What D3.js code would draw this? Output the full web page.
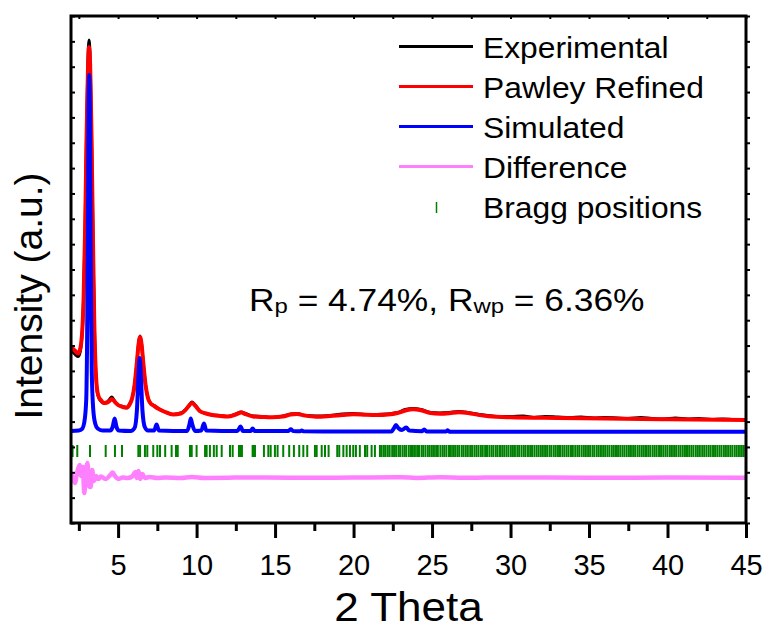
<!DOCTYPE html>
<html>
<head>
<meta charset="utf-8">
<script src="https://cdn.jsdelivr.net/npm/d3@7"></script>
<style>
  body { margin: 0; background: #fff; }
  text { font-family: 'Liberation Sans', Arial, sans-serif; fill: #000; }
</style>
</head>
<body>
<svg id="chart" width="768" height="630"></svg>
<script>
// 2 theta in degrees, intensity in arbitrary units (stacked offsets)
const experimental = [
  [2.0, 172], [2.15, 170.5], [2.3, 168], [2.45, 166.5], [2.55, 169], [2.65, 178], [2.72, 192],
  [2.8, 224], [2.9, 296], [3.0, 400], [3.08, 462], [3.15, 483], [3.22, 464], [3.3, 396],
  [3.4, 284], [3.48, 204], [3.56, 158], [3.65, 134], [3.75, 126], [3.9, 122], [4.1, 120],
  [4.3, 121], [4.45, 123.5], [4.6, 126], [4.7, 124], [4.8, 121.5], [5.0, 118], [5.3, 116.5],
  [5.55, 115], [5.75, 119.5], [5.9, 125], [6.05, 138], [6.2, 161], [6.3, 179], [6.4, 187],
  [6.5, 178.5], [6.6, 161], [6.75, 138], [6.9, 125.5], [7.05, 120], [7.3, 117.5], [7.6, 114],
  [8.0, 111], [8.5, 108.5], [9.0, 110], [9.3, 113.5], [9.5, 117], [9.7, 121], [9.9, 118],
  [10.2, 112], [10.6, 109.5], [11.0, 108], [11.5, 107.5], [12.0, 106.5], [12.5, 109],
  [12.85, 111], [13.1, 109.5], [13.6, 107], [14.2, 106.5], [14.8, 105.5], [15.5, 107],
  [16.0, 109], [16.4, 109.5], [16.9, 107.5], [17.6, 107], [18.5, 107.5], [19.3, 109],
  [20.0, 109.5], [20.8, 108.5], [21.5, 108.5], [22.2, 109], [22.8, 110.5], [23.3, 113.5],
  [23.8, 114.5], [24.3, 113.5], [24.9, 110.5], [25.5, 110], [26.1, 110.5], [26.7, 111.5],
  [27.3, 110.5], [28.0, 108.5], [28.6, 107.5], [29.3, 106.5], [30.0, 106.5], [30.8, 107],
  [31.5, 105.5], [32.2, 106.5], [33.0, 106], [33.8, 105.5], [34.5, 106], [35.3, 105],
  [36.0, 105.5], [36.8, 105], [37.5, 104.5], [38.3, 105.5], [39.0, 104.5], [39.8, 104],
  [40.5, 105], [41.3, 104], [42.0, 104.5], [42.8, 103.5], [43.5, 104], [44.2, 103.5], [45.0, 103]
];

const refined = [
  [2.0, 175], [2.15, 174], [2.3, 171.5], [2.45, 169.5], [2.55, 172], [2.65, 180], [2.72, 193],
  [2.8, 223], [2.9, 293], [3.0, 393], [3.08, 453], [3.15, 476], [3.22, 458], [3.3, 393],
  [3.4, 283], [3.48, 203], [3.56, 158], [3.65, 135], [3.75, 127], [3.9, 123], [4.1, 120],
  [4.3, 120.5], [4.45, 122], [4.6, 124], [4.8, 121], [5.0, 118], [5.3, 116], [5.55, 115.5],
  [5.75, 119], [5.9, 125], [6.05, 138], [6.2, 161], [6.3, 178], [6.4, 186], [6.5, 178],
  [6.6, 161], [6.75, 138], [6.9, 125], [7.05, 120], [7.3, 117], [7.6, 114], [8.0, 111],
  [8.5, 108.5], [9.0, 109.5], [9.3, 113], [9.5, 117], [9.7, 120], [9.9, 117.5], [10.2, 112],
  [10.6, 109.5], [11.0, 108], [11.5, 107], [12.0, 106.5], [12.5, 108.5], [12.85, 110.5],
  [13.1, 109], [13.6, 106.5], [14.2, 106], [14.8, 105.7], [15.5, 106.5], [16.0, 108.5],
  [16.4, 109], [16.9, 107.5], [17.6, 106.3], [18.5, 107], [19.3, 108], [20.0, 108.7],
  [20.8, 108.2], [21.5, 108], [22.2, 108.5], [22.8, 110], [23.3, 112.5], [23.8, 113.7],
  [24.3, 112.7], [24.9, 110], [25.5, 109.2], [26.1, 109.7], [26.7, 110.7], [27.3, 110],
  [28.0, 108], [28.6, 106.7], [30.0, 105.7], [33.0, 105], [36.0, 104.5], [40.0, 103.7], [45.0, 103]
];

const simulated = [
  [2.0, 92], [2.5, 92.5], [2.7, 94], [2.85, 101], [2.97, 123], [3.02, 173], [3.07, 273],
  [3.12, 413], [3.16, 448], [3.2, 413], [3.25, 273], [3.32, 153], [3.42, 113], [3.55, 99],
  [3.7, 94.5], [4.0, 92.5], [4.5, 92.5], [4.65, 96], [4.78, 104.5], [4.9, 96], [5.05, 92.5],
  [5.8, 92], [6.05, 95], [6.2, 113], [6.3, 148], [6.37, 165], [6.45, 148], [6.55, 113],
  [6.7, 96], [6.9, 92.5], [7.3, 92.5], [7.45, 98.5], [7.6, 92.5], [9.4, 92], [9.55, 99],
  [9.63, 104.5], [9.72, 99], [9.9, 92], [10.3, 92.5], [10.47, 99.5], [10.62, 92.5],
  [12.6, 92], [12.8, 96.5], [12.95, 92], [13.45, 92], [13.57, 94.5], [13.7, 92],
  [15.85, 92], [16.0, 93.7], [16.15, 92], [16.6, 91.8], [16.7, 92.5], [16.8, 91.7],
  [22.4, 91.5], [22.6, 95.5], [22.7, 98], [22.85, 95], [23.05, 93], [23.2, 94], [23.35, 95.5],
  [23.55, 92.5], [24.35, 91.7], [24.5, 93.5], [24.65, 91.5], [25.9, 91.5], [26.0, 92.8],
  [26.1, 91.3], [45.0, 91.3]
];

const difference = [
  [2.0, 50], [2.1, 46], [2.25, 40], [2.4, 51], [2.55, 58], [2.65, 47], [2.75, 56], [2.85, 30],
  [2.95, 53], [3.05, 60], [3.15, 37], [3.25, 36], [3.35, 53], [3.45, 42], [3.6, 47], [3.75, 44],
  [3.9, 46.5], [4.2, 44], [4.5, 48], [4.65, 50.5], [4.8, 47], [5.0, 44], [5.3, 45.5], [5.6, 45],
  [5.9, 46.5], [6.1, 51], [6.2, 45], [6.3, 52], [6.4, 44], [6.55, 49], [6.7, 45], [7.0, 46],
  [7.5, 45], [8.0, 45.5], [9.0, 45], [9.7, 46], [10.5, 45], [12.0, 45.2], [13.0, 45.6],
  [16.0, 45.2], [20.0, 45.4], [23.0, 45.8], [24.0, 45.1], [25.5, 45.7], [27.0, 45.3],
  [30.0, 45.5], [35.0, 45.3], [40.0, 45.4], [45.0, 45.3]
];

const braggPositions = [
  2.1, 2.4, 3.21, 4.21, 4.8, 5.25, 6.29, 6.4, 6.71, 6.86, 7.24, 7.5, 7.67, 8.0, 8.41, 8.69, 8.8,
  9.58, 9.69, 10.0, 10.54, 10.64, 10.85, 11.1, 11.28, 11.6, 12.13, 12.3, 12.7, 12.8, 12.89,
  13.57, 13.66, 13.72, 14.29, 14.57, 14.72, 14.99, 15.16, 15.52, 15.9, 16.2, 16.54, 16.8,
  17.05, 17.54, 17.65, 17.97, 18.18, 18.41, 18.96, 19.09, 19.35, 19.56, 19.77, 19.98, 20.15,
  20.4, 20.73, 20.87, 21.15, 21.36, 21.68, 21.79, 21.93, 22.04, 22.18, 22.3, 22.46, 22.58,
  22.71, 22.86, 22.97, 23.12, 23.25, 23.36, 23.52, 23.66, 23.78, 23.91, 24.05, 24.17, 24.33,
  24.44, 24.58, 24.73, 24.85, 24.99, 25.12, 25.26, 25.37, 25.53, 25.67, 25.79, 25.92, 26.08,
  26.2, 26.34, 26.47, 26.61, 26.73, 26.89, 27.01, 27.15, 27.28, 27.43, 27.55, 27.7, 27.83,
  27.96, 28.11, 28.23, 28.38, 28.5, 28.65, 28.79, 28.91, 29.06, 29.18, 29.33, 29.47, 29.6,
  29.74, 29.87, 30.02, 30.15, 30.28, 30.43, 30.55, 30.7, 30.84, 30.96, 31.11, 31.25, 31.37,
  31.52, 31.66, 31.79, 31.93, 32.06, 32.2, 32.33, 32.48, 32.6, 32.75, 32.88, 33.02, 33.15,
  33.3, 33.43, 33.57, 33.7, 33.85, 33.97, 34.12, 34.26, 34.38, 34.53, 34.67, 34.8, 34.94,
  35.07, 35.22, 35.34, 35.49, 35.62, 35.76, 35.9, 36.03, 36.17, 36.3, 36.45, 36.58, 36.72,
  36.85, 36.99, 37.13, 37.26, 37.4, 37.54, 37.67, 37.81, 37.94, 38.09, 38.22, 38.36, 38.49,
  38.63, 38.77, 38.9, 39.05, 39.18, 39.31, 39.46, 39.59, 39.73, 39.87, 40.0, 40.15, 40.28,
  40.42, 40.55, 40.7, 40.83, 40.97, 41.11, 41.24, 41.38, 41.52, 41.65, 41.8, 41.93, 42.06,
  42.21, 42.34, 42.48, 42.62, 42.75, 42.9, 43.03, 43.17, 43.31, 43.44, 43.59, 43.72, 43.86,
  44.0, 44.13, 44.28, 44.41, 44.55, 44.69, 44.82, 44.96
];

const xMajorTicks = [5, 10, 15, 20, 25, 30, 35, 40, 45];
const xMinorTicks = [2.5, 7.5, 12.5, 17.5, 22.5, 27.5, 32.5, 37.5, 42.5];

const legendLabels = ['Experimental', 'Pawley Refined', 'Simulated', 'Difference', 'Bragg positions'];
const legendColors = ['#000000', '#ff0000', '#0000ff', '#ff80ff', '#008000'];

// layout
const width = 768;
const height = 630;
const plot = { left: 71, right: 746, top: 16, bottom: 523 };
const braggBand = [66, 78];

const svg = d3.select('#chart');

const x = d3.scaleLinear().domain([2, 45]).range([plot.left, plot.right]);
const y = d3.scaleLinear().domain([0, 507]).range([plot.bottom, plot.top]);
const yTicks = d3.range(21).map((i) => (i * 507) / 20);

const line = d3
  .line()
  .x((d) => x(d[0]))
  .y((d) => y(d[1]))
  .curve(d3.curveMonotoneX);

const clip = svg.append('clipPath').attr('id', 'clip');
clip
  .append('rect')
  .attr('x', plot.left)
  .attr('y', plot.top)
  .attr('width', plot.right - plot.left)
  .attr('height', plot.bottom - plot.top);

const graph = svg.append('g').attr('clip-path', 'url(#clip)');

// curves
const series = [
  { data: experimental, color: legendColors[0], w: 3 },
  { data: refined, color: legendColors[1], w: 4 },
  { data: simulated, color: legendColors[2], w: 4 },
  { data: difference, color: legendColors[3], w: 4.5 },
];

graph
  .selectAll('.curve')
  .data(series)
  .enter()
  .append('path')
  .attr('class', 'curve')
  .attr('d', (d) => line(d.data))
  .attr('fill', 'none')
  .attr('stroke', (d) => d.color)
  .attr('stroke-width', (d) => d.w)
  .attr('stroke-linejoin', 'round');

// bragg ticks
graph
  .selectAll('.bragg')
  .data(braggPositions)
  .enter()
  .append('line')
  .attr('class', 'bragg')
  .attr('x1', (d) => x(d))
  .attr('x2', (d) => x(d))
  .attr('y1', y(braggBand[0]))
  .attr('y2', y(braggBand[1]))
  .attr('stroke', legendColors[4])
  .attr('stroke-width', 2);

// axes
const axisStyle = (g) => {
  g.select('.domain').remove();
  g.selectAll('.tick line').attr('stroke', '#000').attr('stroke-width', 3);
};

svg
  .append('g')
  .attr('transform', `translate(0, ${plot.bottom})`)
  .call(d3.axisBottom(x).tickValues(xMinorTicks).tickSize(8).tickFormat(''))
  .call(axisStyle);

svg
  .append('g')
  .attr('transform', `translate(0, ${plot.bottom})`)
  .call(d3.axisBottom(x).tickValues(xMajorTicks).tickSize(15).tickPadding(16))
  .call(axisStyle)
  .selectAll('text')
  .attr('font-size', '29px')
  .attr('font-family', "'Liberation Sans', Arial, sans-serif")
  .attr('fill', '#000');

svg
  .append('g')
  .attr('transform', `translate(0, ${plot.top})`)
  .call(d3.axisTop(x).tickValues(xMajorTicks.concat(xMinorTicks)).tickSize(-3).tickFormat(''))
  .call(axisStyle)
  .selectAll('.tick line')
  .attr('stroke-width', 2);

svg
  .append('g')
  .attr('transform', `translate(${plot.left}, 0)`)
  .call(d3.axisLeft(y).tickValues(yTicks).tickSize(-4).tickFormat(''))
  .call(axisStyle)
  .selectAll('.tick line')
  .attr('stroke-width', 2);

svg
  .append('g')
  .attr('transform', `translate(${plot.right}, 0)`)
  .call(d3.axisRight(y).tickValues(yTicks).tickSize(4).tickFormat(''))
  .call(axisStyle)
  .selectAll('.tick line')
  .attr('stroke-width', 2);

// frame
svg
  .append('rect')
  .attr('x', plot.left)
  .attr('y', plot.top)
  .attr('width', plot.right - plot.left)
  .attr('height', plot.bottom - plot.top)
  .attr('fill', 'none')
  .attr('stroke', '#000')
  .attr('stroke-width', 3);

// axis titles
svg
  .append('text')
  .attr('transform', `translate(${(plot.left + plot.right) / 2}, 621) scale(1.1, 1)`)
  .attr('text-anchor', 'middle')
  .attr('font-size', '40px')
  .text('2 Theta');

svg
  .append('text')
  .attr('transform', `translate(42, 296) rotate(-90)`)
  .attr('text-anchor', 'middle')
  .attr('font-size', '39px')
  .text('Intensity (a.u.)');

// legend
const legend = svg
  .selectAll('.legend')
  .data(legendLabels)
  .enter()
  .append('g')
  .attr('class', 'legend')
  .attr('transform', (d, i) => `translate(399, ${58 + i * 40})`);

legend
  .filter((d, i) => i < 4)
  .append('line')
  .attr('x1', 0)
  .attr('x2', 74)
  .attr('y1', -11.5)
  .attr('y2', -11.5)
  .attr('stroke', (d, i) => legendColors[i])
  .attr('stroke-width', 3);

legend
  .filter((d, i) => i === 4)
  .append('line')
  .attr('x1', 37.5)
  .attr('x2', 37.5)
  .attr('y1', -16)
  .attr('y2', -5)
  .attr('stroke', legendColors[4])
  .attr('stroke-width', 1.5);

legend
  .append('text')
  .attr('transform', 'translate(84, 0) scale(1.06, 1)')
  .attr('font-size', '30px')
  .text((d) => d);

// R factors
const rText = svg
  .append('text')
  .attr('transform', 'translate(249, 311) scale(1.14, 1)')
  .attr('font-size', '31px');

rText.append('tspan').text('R');
rText.append('tspan').attr('font-size', '21px').attr('dy', 2).text('p');
rText.append('tspan').attr('dy', -2).text(' = 4.74%, R');
rText.append('tspan').attr('font-size', '21px').attr('dy', 2).text('wp');
rText.append('tspan').attr('dy', -2).text(' = 6.36%');
</script>
</body>
</html>
